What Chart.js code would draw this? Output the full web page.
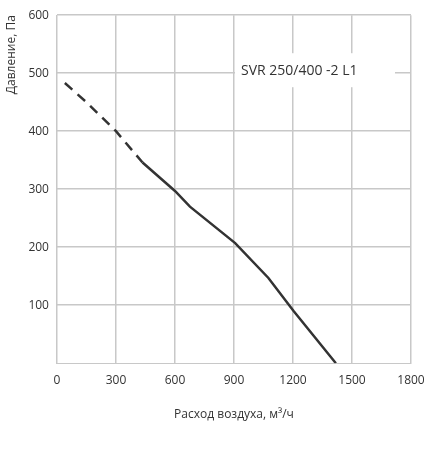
<!DOCTYPE html>
<html><head><meta charset="utf-8">
<script src="https://cdn.jsdelivr.net/npm/chart.js@4/dist/chart.umd.min.js"></script>
<style>html,body{margin:0;padding:0;background:#fff}#w{width:446px;height:450px}</style>
</head><body><div id="w"><canvas id="c"></canvas></div>
<script>
const dashedX=[40,150,300,435];
const dashedY=[483,450,400,346];
const solidX=[435,600,676,906,1075,1203,1418];
const solidY=[346,297,270,207,147,90,0];
const xTicks=[0,300,600,900,1200,1500,1800];
const yTicks=[100,200,300,400,500,600];
const label='SVR 250/400 -2 L1';
const toPts=(xs,ys)=>xs.map((x,i)=>({x,y:ys[i]}));
const boxPlugin={id:'box',afterDatasetsDraw(ch){const c=ch.ctx;const a=ch.chartArea;
 c.save();c.fillStyle='#fff';c.fillRect(a.left+178,a.top+38,160,34);
 c.fillStyle='#333';c.font='14px "Open Sans"';c.textBaseline='middle';c.fillText(label,a.left+184,a.top+56);c.restore();}};
new Chart(document.getElementById('c'),{type:'scatter',
data:{datasets:[
 {data:toPts(dashedX,dashedY),showLine:true,borderColor:'#333',borderWidth:2.5,borderDash:[10,7],pointRadius:0,tension:0},
 {data:toPts(solidX,solidY),showLine:true,borderColor:'#333',borderWidth:2.5,pointRadius:0,tension:0}]},
options:{animation:false,responsive:true,maintainAspectRatio:false,
 layout:{padding:{left:0,right:35,top:12,bottom:24}},
 plugins:{legend:{display:false},tooltip:{enabled:false}},
 scales:{
  x:{type:'linear',min:0,max:1800,afterBuildTicks:s=>{s.ticks=xTicks.map(v=>({value:v}))},
   grid:{color:'#c8c8c8',lineWidth:1.5,drawTicks:false},border:{color:'#c8c8c8'},
   ticks:{color:'#333',font:{family:'Open Sans',size:12},padding:10,callback:v=>String(v)},
   title:{display:true,text:'Расход воздуха, м³/ч',color:'#333',font:{family:'Open Sans',size:12},padding:{top:10}}},
  y:{type:'linear',min:0,max:600,afterBuildTicks:s=>{s.ticks=yTicks.map(v=>({value:v}))},
   grid:{color:'#c8c8c8',lineWidth:1.5,drawTicks:false},border:{color:'#c8c8c8'},
   ticks:{color:'#333',font:{family:'Open Sans',size:12},padding:8,callback:v=>String(v)},
   title:{display:true,align:'end',text:'Давление, Па',color:'#333',font:{family:'Open Sans',size:12},padding:{bottom:2}}}}},
plugins:[boxPlugin]});
</script></body></html>
